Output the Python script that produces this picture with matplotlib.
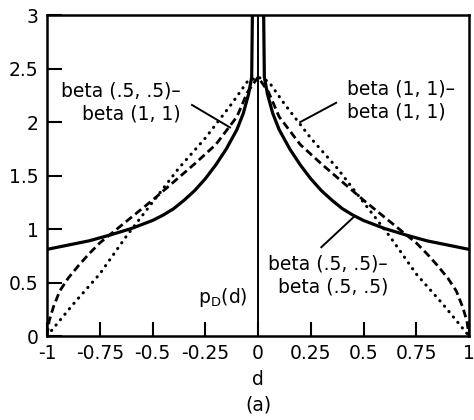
import matplotlib
matplotlib.use("Agg")
import matplotlib.pyplot as plt

plt.rcParams['font.family'] = ['DejaVu Sans']
plt.rcParams['axes.unicode_minus'] = False

# beta(1,1) - beta(1,1)  (dotted)
d_uu = [-1, -0.875, -0.75, -0.625, -0.5, -0.375, -0.25, -0.125, -0.05, 0,
        0.05, 0.125, 0.25, 0.375, 0.5, 0.625, 0.75, 0.875, 1]
p_uu = [0, 0.30, 0.58, 0.93, 1.25, 1.57, 1.85, 2.17, 2.38, 2.42,
        2.38, 2.17, 1.85, 1.57, 1.25, 0.93, 0.58, 0.30, 0]

# beta(.5,.5) - beta(1,1)  (dashed)
d_hu = [-1, -0.99, -0.97, -0.94, -0.9, -0.85, -0.8, -0.75, -0.7, -0.6, -0.5,
        -0.4, -0.3, -0.2, -0.1, -0.05, 0,
        0.05, 0.1, 0.2, 0.3, 0.4, 0.5, 0.6, 0.7, 0.75, 0.8, 0.85, 0.9,
        0.94, 0.97, 0.99, 1]
p_hu = [0.0, 0.14, 0.27, 0.42, 0.54, 0.66, 0.77, 0.87, 0.95, 1.11, 1.27,
        1.44, 1.61, 1.79, 2.05, 2.28, 2.42,
        2.28, 2.05, 1.79, 1.61, 1.44, 1.27, 1.11, 0.95, 0.87, 0.77, 0.66, 0.54,
        0.42, 0.27, 0.14, 0.0]

# beta(.5,.5) - beta(.5,.5)  (solid, log spike at 0)
d_hh = [-1, -0.9, -0.8, -0.7, -0.6, -0.5, -0.45, -0.4, -0.35, -0.3, -0.25,
        -0.2, -0.15, -0.1, -0.07, -0.045, -0.03, -0.025,
        0.025, 0.03, 0.045, 0.07, 0.1, 0.15, 0.2, 0.25, 0.3, 0.35, 0.4,
        0.45, 0.5, 0.6, 0.7, 0.8, 0.9, 1]
p_hh = [0.81, 0.85, 0.89, 0.945, 1.005, 1.08, 1.13, 1.19, 1.27, 1.36, 1.47,
        1.60, 1.75, 1.93, 2.08, 2.26, 2.42, 3.3,
        3.3, 2.42, 2.26, 2.08, 1.93, 1.75, 1.60, 1.47, 1.36, 1.27, 1.19,
        1.13, 1.08, 1.005, 0.945, 0.89, 0.85, 0.81]

x_ticks = [-1, -0.75, -0.5, -0.25, 0, 0.25, 0.5, 0.75, 1]
x_labels = ["-1", "-0.75", "-0.5", "-0.25", "0", "0.25", "0.5", "0.75", "1"]
y_ticks = [0, 0.5, 1, 1.5, 2, 2.5, 3]
y_labels = ["0", "0.5", "1", "1.5", "2", "2.5", "3"]

fig = plt.figure(figsize=(4.74, 4.2), dpi=100)
ax = fig.add_axes([0.0992, 0.2, 0.8903, 0.764])

ax.plot(d_uu, p_uu, color='black', lw=2.2, linestyle=(0, (0.1, 2.2)),
        dash_capstyle='round')
ax.plot(d_hu, p_hu, color='black', lw=2.0, linestyle=(0, (2.8, 1.5)))
ax.plot(d_hh, p_hh, color='black', lw=2.3)
ax.axvline(0, color='black', lw=1.4)

ax.set_xlim(-1, 1)
ax.set_ylim(0, 3)
ax.set_xticks(x_ticks)
ax.set_xticklabels(x_labels)
ax.set_yticks(y_ticks)
ax.set_yticklabels(y_labels)
ax.tick_params(axis='both', direction='in', labelsize=13.5, width=1.5, color='black')
ax.tick_params(axis='y', length=11, pad=6)
ax.tick_params(axis='x', length=10, pad=6)
for s in ax.spines.values():
    s.set_linewidth(1.8)

ax.set_xlabel("d", fontsize=13.5, labelpad=5)
fig.text(0.545, 0.036, "(a)", fontsize=13.5, ha='center', va='center')

# curve labels with leader lines
fs = 13.5
ax.text(-0.365, 2.185, "beta (.5, .5)–\nbeta (1, 1)", fontsize=fs,
        ha='right', va='center', linespacing=1.25)
ax.plot([-0.313, -0.133], [2.16, 1.95], color='black', lw=1.4)

ax.text(0.42, 2.20, "beta (1, 1)–\nbeta (1, 1)", fontsize=fs,
        ha='left', va='center', linespacing=1.25)
ax.plot([0.37, 0.2], [2.18, 2.0], color='black', lw=1.4)

ax.text(0.616, 0.565, "beta (.5, .5)–\nbeta (.5, .5)", fontsize=fs,
        ha='right', va='center', linespacing=1.25)
ax.plot([0.30, 0.455], [0.83, 1.115], color='black', lw=1.4)

ax.text(-0.05, 0.36, r"p$_\mathregular{D}$(d)", fontsize=fs, ha='right', va='center')

fig.savefig("out.png", dpi=100)
